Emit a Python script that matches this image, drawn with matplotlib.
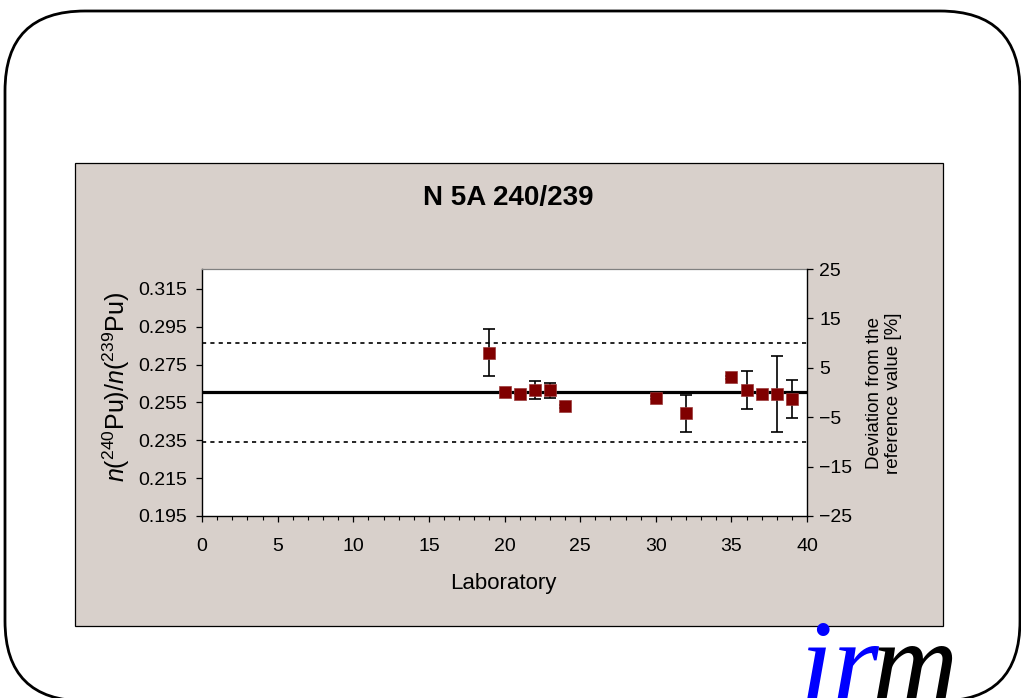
import matplotlib
matplotlib.use("Agg")
import matplotlib.pyplot as plt
from matplotlib.patches import FancyBboxPatch, Rectangle
import numpy as np

plt.rcParams['font.family'] = ['Liberation Sans', 'DejaVu Sans']
plt.rcParams['mathtext.fontset'] = 'custom'
plt.rcParams['mathtext.rm'] = 'Liberation Sans'
plt.rcParams['mathtext.it'] = 'Liberation Sans:italic'

# Laboratory results for the n(240Pu)/n(239Pu) ratio
labs = [19, 20, 21, 22, 23, 24, 30, 32, 35, 36, 37, 38, 39]
ratios = [0.2813, 0.2605, 0.2596, 0.2615, 0.2615, 0.2529, 0.2576,
          0.2492, 0.2682, 0.2615, 0.2596, 0.2596, 0.2568]
uncert = [0.0123, 0.0003, 0.0004, 0.0048, 0.0040, 0.0008, 0.0008,
          0.0096, 0.0008, 0.0100, 0.0004, 0.0200, 0.0100]
ref_value = 0.2603
dev_limit = 10  # percent

left_ticks = [0.195, 0.215, 0.235, 0.255, 0.275, 0.295, 0.315]
right_ticks = [-25, -15, -5, 5, 15, 25]
x_ticks = [0, 5, 10, 15, 20, 25, 30, 35, 40]

W, H = 1021, 698
fig = plt.figure(figsize=(W / 100, H / 100), dpi=100)
fig.patch.set_facecolor('white')

def px(x, y):
    return x / 100, (H - y) / 100

# rounded slide frame
x0, y0 = px(5, 701)
frame = FancyBboxPatch((x0, y0), (1020 - 5) / 100, (701 - 11) / 100,
                       boxstyle="round,pad=0,rounding_size=0.8",
                       transform=fig.dpi_scale_trans, facecolor='white',
                       edgecolor='black', linewidth=2.0, zorder=-3, clip_on=False)
fig.patches.append(frame)

# grey chart area
cx, cy = px(75, 626)
chart_bg = Rectangle((cx, cy), (943 - 75) / 100, (626 - 163) / 100,
                     transform=fig.dpi_scale_trans, facecolor='#D8D0CB',
                     edgecolor='black', linewidth=0.9, zorder=-2)
fig.patches.append(chart_bg)

ax = fig.add_axes([202 / W, (H - 516) / H, 605 / W, 247 / H])
ax.set_facecolor('white')
ax.set_xlim(0, 40)
ax.set_ylim(0.195, 0.3255)

ax.axhline(ref_value, color='black', lw=2.3, zorder=2)
ax.axhline(ref_value * (1 + dev_limit / 100), color='black', lw=1.2,
           ls=(0, (2.5, 2.5)), zorder=2)
ax.axhline(ref_value * (1 - dev_limit / 100), color='black', lw=1.2,
           ls=(0, (2.5, 2.5)), zorder=2)

ax.errorbar(labs, ratios, yerr=uncert, fmt='none', ecolor='black',
            elinewidth=1.2, capsize=4.6, capthick=1.2, zorder=3)
ax.plot(labs, ratios, ls='none', marker='s', markersize=8.6,
        markerfacecolor='#800000', markeredgecolor='#9A3A3A',
        markeredgewidth=0.5, zorder=4)

ax.set_xticks(x_ticks)
ax.set_xticks(np.arange(0, 41, 1), minor=True)
ax.set_yticks(left_ticks)
ax.set_yticklabels([f"{t:.3f}" for t in left_ticks])
ax.tick_params(axis='x', which='major', direction='out', length=4, width=0.9,
               labelsize=14, pad=12)
ax.tick_params(axis='x', which='minor', direction='out', length=3, width=0.8)
ax.tick_params(axis='y', which='major', direction='out', length=4, width=0.9,
               labelsize=14, pad=7)
for s in ['left', 'bottom']:
    ax.spines[s].set_color('black')
    ax.spines[s].set_linewidth(1.0)
ax.spines['top'].set_color('#808080')
ax.spines['top'].set_linewidth(0.9)
ax.spines['right'].set_visible(False)

ax2 = ax.twinx()
ax2.set_ylim(-25, 25)
ax2.set_yticks(right_ticks)
ax2.tick_params(axis='y', direction='out', length=4, width=0.9,
                labelsize=14, pad=5)
ax2.spines['right'].set_color('black')
ax2.spines['right'].set_linewidth(1.0)
for s in ['left', 'top', 'bottom']:
    ax2.spines[s].set_visible(False)

def ftext(x, y, s, **kw):
    fig.text(x / W, 1 - y / H, s, **kw)

ftext(508, 198, "N 5A 240/239", ha='center', va='center', fontsize=20,
      fontweight='bold')
ftext(503, 583, "Laboratory", ha='center', va='center', fontsize=16)
ftext(116, 387, r"$n$($^{240}$Pu)/$n$($^{239}$Pu)", ha='center', va='center',
      rotation=90, fontsize=18)
ftext(884, 393, "Deviation from the\nreference value [%]", ha='center',
      va='center', rotation=90, fontsize=13.5, linespacing=1.1)

# logo
lx, ly = px(872, 702)
fig.text(lx, ly, "m", transform=fig.dpi_scale_trans, ha='left',
         va='baseline', fontsize=86, family='Liberation Serif',
         style='italic', color='black')
lx2, _ = px(879, 702)
fig.text(lx2, ly, "ir", transform=fig.dpi_scale_trans, ha='right',
         va='baseline', fontsize=86, family='Liberation Serif',
         style='italic', color='#0000FF')

fig.savefig("out.png", dpi=100)
